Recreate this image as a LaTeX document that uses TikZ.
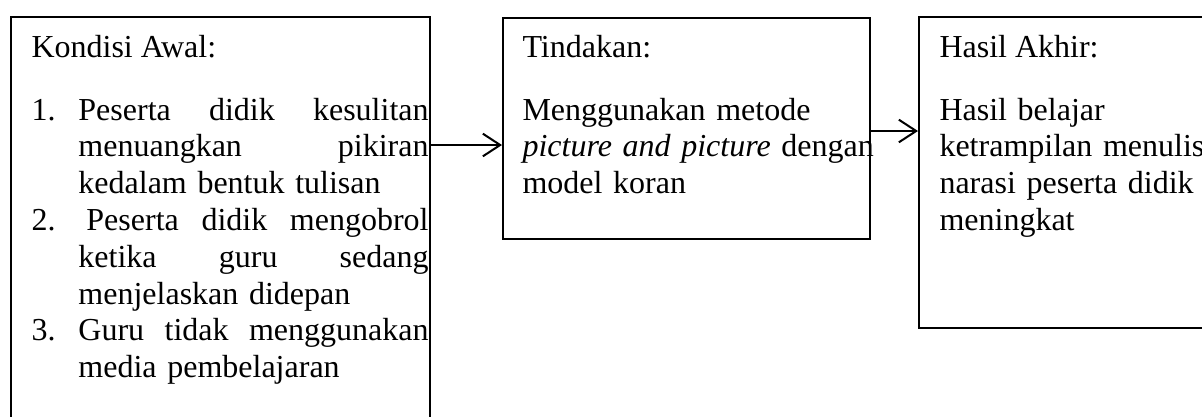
\documentclass[tikz,border=0pt]{standalone}
\usepackage{fontspec}
\setmainfont{Liberation Serif}
\usetikzlibrary{positioning,arrows.meta}

\tikzset{
  box/.style={draw, line width=0.75pt, anchor=north west, inner sep=0pt},
  teks/.style={anchor=base west, inner sep=0pt, align=left},
  panah/.style={line width=0.75pt, -{Straight Barb[length=6.5pt,width=8.5pt,line width=0.75pt]}}
}

\begin{document}
\begin{tikzpicture}[x=0.375pt, y=-0.375pt, font=\fontsize{12pt}{13.8pt}\selectfont]
% x, y in pixels of the 1202 x 416 sketch (0.375 pt per pixel), y grows downwards
\useasboundingbox (0,0) rectangle (1202,416);
\clip (0,0) rectangle (1202,416);
\node[box, minimum width=157.1pt, minimum height=160pt] (awal) at (10,16) {};
\node[box, minimum width=137.6pt, minimum height=82.9pt] (tindakan) at (502,17) {};
\node[box, minimum width=115pt, minimum height=116.6pt] (akhir) at (918,16) {};
\foreach \b/\x/\t in {awal/31/Kondisi Awal:, tindakan/522/Tindakan:, akhir/939/Hasil Akhir:}
  { \node[teks] (\b-judul) at (\x,57) {\t}; }
\node[teks, text width=148.9pt] (awal-isi) at (31,120) {%
  \makebox[17.6pt][l]{1.}Peserta\hfill didik\hfill kesulitan\\
  \hspace*{17.6pt}menuangkan\hfill pikiran\\
  \hspace*{17.6pt}kedalam bentuk tulisan\\
  \makebox[17.6pt][l]{2.}\hspace*{3pt}Peserta\hfill didik\hfill mengobrol\\
  \hspace*{17.6pt}ketika\hfill guru\hfill sedang\\
  \hspace*{17.6pt}menjelaskan didepan\\
  \makebox[17.6pt][l]{3.}Guru\hfill tidak\hfill menggunakan\\
  \hspace*{17.6pt}media pembelajaran};
\node[teks, text width=136pt] (tindakan-isi) at (522,120)
  {Menggunakan metode\\ \textit{picture and picture} \mbox{dengan}\\ model koran};
\node[teks, text width=112pt] (akhir-isi) at (939,120)
  {Hasil belajar\\ ketrampilan menulis\\ narasi peserta didik\\ meningkat};
% arrows at the heights they leave the boxes
\coordinate (p1) at (0,145);
\coordinate (p2) at (0,131);
\draw[panah] (awal.east |- p1) -- (tindakan.west |- p1);
\draw[panah] (tindakan.east |- p2) -- (akhir.west |- p2);
\end{tikzpicture}
\end{document}
